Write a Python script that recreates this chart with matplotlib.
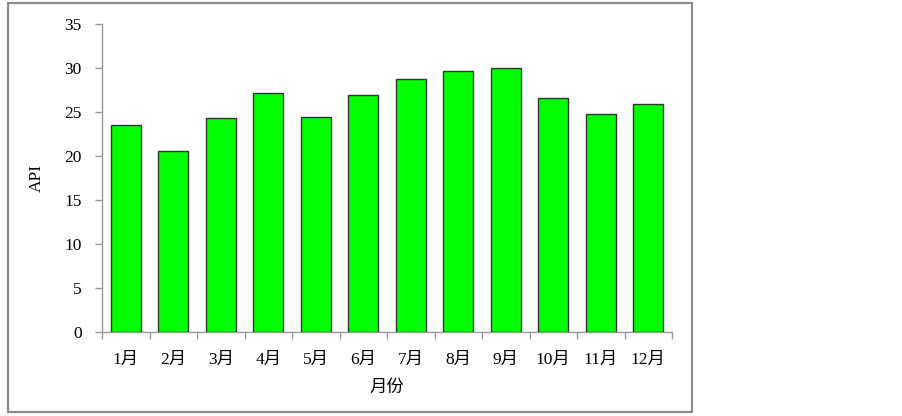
import matplotlib
matplotlib.use("Agg")
import matplotlib.pyplot as plt
from matplotlib.patches import Rectangle

months = ["1月", "2月", "3月", "4月", "5月", "6月", "7月", "8月", "9月", "10月", "11月", "12月"]
api = [23.5, 20.6, 24.3, 27.2, 24.4, 26.9, 28.7, 29.7, 30.0, 26.6, 24.8, 25.9]
yticks = [0, 5, 10, 15, 20, 25, 30, 35]

plt.rcParams['font.family'] = ['Liberation Serif', 'Noto Sans CJK SC']
plt.rcParams['font.size'] = 12.5

fig = plt.figure(figsize=(9.02, 4.16), dpi=100)
fig.patch.set_facecolor('white')

# outer border
border = Rectangle((8/902, 1-412/416), (692-8)/902, (412-3)/416, transform=fig.transFigure,
                   fill=False, edgecolor='#8c8c8c', linewidth=1.6)
fig.patches.append(border)

ax = fig.add_axes([102/902, 1-332/416, (672-102)/902, (332-24)/416])
x = list(range(len(months)))
ax.bar(x, api, width=0.63, color='#00ff00', edgecolor='#333333', linewidth=1.0, zorder=3)

ax.set_xlim(-0.5, len(months) - 0.5)
ax.set_ylim(0, 35)
ax.set_yticks(yticks)
ax.set_yticklabels([str(v) for v in yticks])

ax.set_xticks([i - 0.5 for i in range(len(months) + 1)])
ax.set_xticklabels([])
ax.set_xticks(x, minor=True)
ax.set_xticklabels(months, minor=True)
ax.tick_params(axis='x', which='minor', length=0, pad=14)
ax.tick_params(axis='x', which='major', length=5, color='#999999', width=1.0)
ax.tick_params(axis='y', length=5, color='#999999', width=1.0, pad=9.5)

for s in ['top', 'right']:
    ax.spines[s].set_visible(False)
for s in ['left', 'bottom']:
    ax.spines[s].set_color('#999999')
    ax.spines[s].set_linewidth(1.0)

ax.set_ylabel('API', labelpad=14)
ax.set_xlabel('月份', labelpad=9)

fig.savefig('out.png', dpi=100, facecolor='white')
